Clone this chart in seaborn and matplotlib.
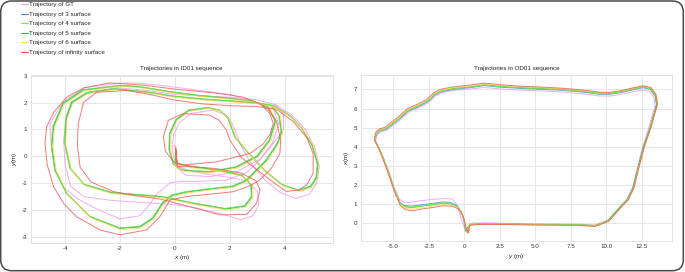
import matplotlib
matplotlib.use('Agg')
import pandas as pd
import matplotlib.pyplot as plt
import seaborn as sns
from matplotlib.lines import Line2D
from matplotlib.patches import FancyBboxPatch

# Trajectory names and colours
labels = ['Trajectory of GT', 'Trajectory of 3 surface', 'Trajectory of 4 surface',
          'Trajectory of 5 surface', 'Trajectory of 6 surface', 'Trajectory of infinity surface']
colors = ['#f294f0', '#3f82d6', '#66ee44', '#33bb4c', '#ffd84a', '#ef5353']

# ID01 sequence waypoints (x, y in metres)
id01_gt_x = [0.05, 0.05, 0.6, 1.3, 2.0, 2.6, 3.0, 3.05, 2.85, 2.4, 1.64, 0.7, 0.06, -1.0, -2.24, -3.3, -3.8, -4.0, -4.05, -3.95,
             -3.7, -3.1, -2.1, -1.0, 0.0, 1.0, 2.0, 3.0, 3.7, 4.3, 4.75, 5.1, 5.25, 5.15, 4.9, 4.4, 3.85, 3.3, 2.8, 2.4,
             2.1, 1.85, 1.4, 0.6, 0.15, -0.05, -0.1, 0.05, 0.4, 1.3, 2.3, 3.1, 3.55, 3.78, 3.6, 3.0, 2.0, 0.9, -0.2, -1.3,
             -2.0, -3.3, -4.1, -4.55, -4.5, -4.36, -4.05, -3.5, -2.85, -2.0, -1.27, -0.9, -0.67, -0.18, 0.2, 1.0, 1.88, 2.6, 3.09, 3.6,
             3.95, 3.95, 3.6]
id01_gt_y = [0.35, -0.35, -0.55, -0.68, -0.78, -0.9, -1.3, -1.8, -2.2, -2.35, -2.12, -1.9, -1.8, -1.72, -1.64, -1.5, -1.1, -0.3, 0.6, 1.5,
             2.05, 2.4, 2.55, 2.45, 2.3, 2.25, 2.2, 2.1, 1.9, 1.5, 1.0, 0.3, -0.4, -1.0, -1.4, -1.56, -1.35, -0.9, -0.3, 0.4,
             1.2, 1.55, 1.72, 1.6, 1.25, 0.8, 0.25, -0.4, -0.7, -0.75, -0.55, -0.1, 0.5, 1.2, 1.75, 2.0, 2.3, 2.45, 2.6, 2.72,
             2.72, 2.55, 2.0, 1.2, 0.4, -0.53, -1.15, -1.6, -1.95, -2.32, -2.2, -1.75, -1.4, -0.98, -0.93, -0.92, -0.88, -0.6, -0.14, 0.5,
             1.0, 1.6, 1.95]
id01_s3_x = [0.04, 0.01, 0.59, 1.25, 1.99, 2.44, 2.77, 2.79, 2.54, 1.84, 0.69, -0.51, -1.51, -2.31, -3.31, -3.81, -4.01, -3.96, -3.76, -3.21,
             -2.21, -1.01, -0.01, 0.99, 1.99, 2.99, 3.64, 4.19, 4.61, 4.99, 5.19, 5.14, 4.94, 4.49, 3.89, 3.29, 2.69, 2.19, 1.94, 1.64,
             1.19, 0.49, 0.04, -0.19, -0.21, -0.06, 0.29, 1.26, 2.23, 2.99, 3.44, 3.65, 3.39, 2.79, 1.99, 0.89, -0.11, -1.31, -2.01, -3.34,
             -4.07, -4.43, -4.49, -4.37, -3.95, -3.1, -2.01, -1.28, -0.81, -0.46, -0.11, 0.39, 1.39, 2.09, 2.59, 3.32, 3.74, 3.87, 3.79, 3.49]
id01_s3_y = [0.26, -0.24, -0.37, -0.46, -0.59, -0.71, -1.04, -1.49, -1.84, -1.94, -1.74, -1.49, -1.41, -1.34, -1.04, -0.44, 0.51, 1.41, 2.01, 2.36,
             2.51, 2.39, 2.23, 2.13, 2.06, 1.99, 1.86, 1.51, 1.06, 0.41, -0.29, -0.79, -1.11, -1.26, -1.04, -0.54, 0.11, 0.71, 1.41, 1.71,
             1.81, 1.71, 1.36, 0.86, 0.26, -0.29, -0.51, -0.57, -0.39, 0.01, 0.61, 1.31, 1.83, 2.06, 2.16, 2.26, 2.39, 2.59, 2.63, 2.47,
             1.97, 1.11, 0.37, -0.5, -1.36, -2.23, -2.66, -2.61, -2.29, -1.74, -1.44, -1.32, -1.19, -1.11, -0.89, -0.14, 0.51, 0.91, 1.51, 1.91]
id01_s4_x = [0.03, 0.0, 0.58, 1.24, 1.98, 2.43, 2.76, 2.78, 2.53, 1.83, 0.68, -0.52, -1.52, -2.32, -3.32, -3.83, -4.03, -3.98, -3.78, -3.22,
             -2.22, -1.02, -0.02, 0.98, 1.98, 2.98, 3.63, 4.18, 4.6, 4.98, 5.18, 5.13, 4.93, 4.48, 3.88, 3.28, 2.68, 2.18, 1.93, 1.63,
             1.18, 0.48, 0.03, -0.2, -0.22, -0.07, 0.28, 1.25, 2.22, 2.98, 3.43, 3.64, 3.38, 2.78, 1.98, 0.88, -0.12, -1.32, -2.02, -3.35,
             -4.08, -4.45, -4.5, -4.38, -3.96, -3.11, -2.02, -1.29, -0.82, -0.47, -0.12, 0.38, 1.38, 2.08, 2.58, 3.31, 3.73, 3.86, 3.78, 3.48]
id01_s4_y = [0.27, -0.22, -0.36, -0.45, -0.58, -0.7, -1.03, -1.48, -1.83, -1.93, -1.73, -1.48, -1.4, -1.33, -1.03, -0.43, 0.52, 1.42, 2.02, 2.37,
             2.52, 2.4, 2.24, 2.14, 2.07, 2.0, 1.87, 1.52, 1.07, 0.42, -0.28, -0.78, -1.1, -1.25, -1.03, -0.53, 0.12, 0.72, 1.42, 1.72,
             1.82, 1.72, 1.37, 0.87, 0.27, -0.28, -0.5, -0.56, -0.38, 0.02, 0.62, 1.32, 1.84, 2.07, 2.17, 2.27, 2.4, 2.6, 2.64, 2.48,
             1.98, 1.12, 0.38, -0.49, -1.35, -2.22, -2.65, -2.6, -2.28, -1.73, -1.43, -1.31, -1.18, -1.1, -0.88, -0.13, 0.52, 0.92, 1.52, 1.92]
id01_s5_x = [0.05, 0.02, 0.6, 1.25, 2.0, 2.45, 2.78, 2.8, 2.55, 1.85, 0.7, -0.5, -1.5, -2.3, -3.3, -3.8, -4.0, -3.95, -3.75, -3.2,
             -2.2, -1.0, 0.0, 1.0, 2.0, 3.0, 3.65, 4.2, 4.62, 5.0, 5.2, 5.15, 4.95, 4.5, 3.9, 3.3, 2.7, 2.2, 1.95, 1.65,
             1.2, 0.5, 0.05, -0.18, -0.2, -0.05, 0.3, 1.27, 2.24, 3.0, 3.45, 3.66, 3.4, 2.8, 2.0, 0.9, -0.1, -1.3, -2.0, -3.33,
             -4.06, -4.42, -4.48, -4.36, -3.94, -3.09, -2.0, -1.27, -0.8, -0.45, -0.1, 0.4, 1.4, 2.1, 2.6, 3.33, 3.75, 3.88, 3.8, 3.5]
id01_s5_y = [0.25, -0.25, -0.38, -0.47, -0.6, -0.72, -1.05, -1.5, -1.85, -1.95, -1.75, -1.5, -1.42, -1.35, -1.05, -0.45, 0.5, 1.4, 2.0, 2.35,
             2.5, 2.38, 2.22, 2.12, 2.05, 1.98, 1.85, 1.5, 1.05, 0.4, -0.3, -0.8, -1.12, -1.27, -1.05, -0.55, 0.1, 0.7, 1.4, 1.7,
             1.8, 1.7, 1.35, 0.85, 0.25, -0.3, -0.52, -0.58, -0.4, 0.0, 0.6, 1.3, 1.82, 2.05, 2.15, 2.25, 2.38, 2.58, 2.62, 2.46,
             1.96, 1.1, 0.36, -0.51, -1.37, -2.24, -2.67, -2.62, -2.3, -1.75, -1.45, -1.33, -1.2, -1.12, -0.9, -0.15, 0.5, 0.9, 1.5, 1.9]
id01_s6_x = [0.08, 0.05, 0.62, 1.27, 2.02, 2.5, 2.83, 2.84, 2.6, 1.88, 0.72, -0.48, -1.5, -2.3, -3.28, -3.78, -3.98, -3.93, -3.72, -3.18,
             -2.2, -1.0, 0.0, 1.0, 2.0, 3.0, 3.66, 4.22, 4.65, 5.05, 5.25, 5.2, 5.0, 4.52, 3.92, 3.32, 2.72, 2.23, 1.98, 1.68,
             1.22, 0.52, 0.08, -0.14, -0.16, -0.02, 0.32, 1.28, 2.26, 3.03, 3.5, 3.7, 3.45, 2.85, 2.0, 0.9, -0.1, -1.3, -2.0, -3.3,
             -4.03, -4.38, -4.44, -4.32, -3.9, -3.05, -1.98, -1.24, -0.76, -0.42, -0.08, 0.42, 1.42, 2.12, 2.63, 3.36, 3.78, 3.92, 3.84, 3.55]
id01_s6_y = [0.2, -0.3, -0.42, -0.5, -0.63, -0.75, -1.08, -1.52, -1.88, -1.99, -1.78, -1.53, -1.45, -1.38, -1.08, -0.48, 0.48, 1.38, 1.98, 2.33,
             2.48, 2.36, 2.2, 2.1, 2.03, 1.96, 1.83, 1.48, 1.02, 0.38, -0.33, -0.83, -1.15, -1.3, -1.08, -0.57, 0.08, 0.68, 1.38, 1.68,
             1.78, 1.68, 1.33, 0.83, 0.23, -0.33, -0.55, -0.61, -0.43, -0.03, 0.58, 1.28, 1.8, 2.03, 2.13, 2.23, 2.36, 2.56, 2.6, 2.44,
             1.94, 1.08, 0.34, -0.53, -1.4, -2.28, -2.72, -2.66, -2.33, -1.78, -1.48, -1.36, -1.23, -1.15, -0.93, -0.18, 0.48, 0.88, 1.48, 1.88]
id01_inf_x = [0.0, 0.08, 0.02, 0.1, 0.6, 1.5, 2.4, 2.95, 3.1, 2.97, 2.61, 1.64, 0.67, -0.55, -1.5, -2.25, -3.05, -3.45, -3.55, -3.52,
              -3.33, -2.85, -1.76, -0.9, -0.06, 1.0, 2.1, 3.0, 3.7, 4.3, 4.8, 5.03, 5.03, 4.8, 4.5, 4.06, 3.7, 3.03, 2.42, 2.0,
              1.88, 1.6, 1.27, 0.3, -0.24, -0.42, -0.35, 0.0, 0.3, 1.52, 2.73, 3.2, 3.45, 3.58, 3.45, 3.1, 2.5, 1.5, 0.0, -1.2,
              -2.36, -3.3, -3.94, -4.4, -4.67, -4.73, -4.65, -4.42, -4.05, -3.58, -2.73, -2.0, -1.03, -0.55, -0.18, 0.42, 1.3, 2.12, 2.7, 3.09,
              3.5, 3.82, 3.85, 3.7, 3.4, 3.2]
id01_inf_y = [0.4, -0.3, 0.3, -0.38, -0.38, -0.45, -0.62, -0.9, -1.25, -1.74, -2.15, -2.17, -1.9, -1.58, -1.45, -1.3, -0.95, -0.4, 0.4, 1.2,
              2.0, 2.38, 2.45, 2.3, 2.1, 1.95, 1.88, 1.85, 1.75, 1.3, 0.7, 0.1, -0.63, -1.05, -1.25, -1.3, -1.05, -0.53, -0.04, 0.6,
              0.97, 1.35, 1.53, 1.59, 1.34, 0.73, 0.2, -0.25, -0.32, -0.2, 0.11, 0.45, 0.8, 1.22, 1.6, 1.95, 2.2, 2.35, 2.5, 2.65,
              2.73, 2.55, 2.2, 1.65, 1.1, 0.48, -0.3, -1.12, -1.75, -2.24, -2.73, -2.91, -2.73, -2.24, -1.62, -1.49, -1.4, -1.31, -1.1, -0.88,
              -0.45, 0.1, 0.6, 1.3, 1.75, 1.9]

# OD01 sequence waypoints (horizontal = y in metres, vertical = x in metres)
od01_gt_x = [0.3, 0.05, -0.05, -0.2, -0.35, -0.55, -0.85, -1.5, -2.3, -3.1, -3.8, -4.25, -4.55, -4.9, -5.3, -5.7, -6.05, -6.25, -6.15, -5.9,
             -5.5, -5.05, -4.6, -3.9, -3.05, -2.5, -2.05, -1.55, -0.8, 0.5, 1.4, 2.5, 4.0, 5.5, 7.0, 8.5, 9.5, 10.2, 11.0, 12.0,
             12.6, 13.05, 13.35, 13.45, 13.0, 12.55, 12.2, 11.85, 11.45, 10.95, 10.15, 9.21, 7.92, 6.0, 4.5, 3.0, 1.5, 0.8, 0.4, 0.2, 0.3]
od01_gt_y = [-0.4, -0.4, -0.1, 0.2, 0.6, 1.0, 1.28, 1.3, 1.25, 1.18, 1.1, 1.1, 1.25, 1.8, 2.65, 3.4, 4.0, 4.3, 4.6, 4.77,
             4.85, 5.1, 5.35, 5.82, 6.1, 6.32, 6.65, 6.83, 6.95, 7.03, 7.1, 7.03, 6.97, 6.92, 6.86, 6.76, 6.66, 6.65, 6.74, 6.9,
             6.97, 6.9, 6.6, 6.18, 5.0, 3.95, 2.9, 1.86, 1.25, 0.86, 0.18, -0.08, -0.04, -0.03, -0.02, 0.0, 0.03, 0.02, 0.0, -0.3, -0.22]
od01_s3_x = [0.25, 0.1, 0.03, -0.05, -0.2, -0.5, -0.95, -1.5, -2.2, -3.0, -3.75, -4.25, -4.55, -4.93, -5.31, -5.71, -6.06, -6.3, -6.2, -5.95,
             -5.55, -5.1, -4.65, -3.95, -3.1, -2.55, -2.1, -1.6, -0.8, 0.5, 1.4, 2.5, 4.0, 5.5, 7.0, 8.5, 9.5, 10.2, 11.0, 12.0,
             12.6, 13.1, 13.45, 13.55, 13.1, 12.61, 12.25, 11.9, 11.5, 10.96, 10.14, 9.21, 7.92, 6.0, 4.5, 3.0, 1.5, 0.8, 0.4, 0.15, 0.25]
od01_s3_y = [-0.4, -0.4, -0.1, 0.2, 0.56, 0.92, 1.1, 1.12, 1.05, 0.97, 0.9, 0.94, 1.1, 1.74, 2.62, 3.4, 3.99, 4.32, 4.67, 4.83,
             4.9, 5.15, 5.4, 5.87, 6.15, 6.37, 6.7, 6.88, 7.0, 7.1, 7.2, 7.12, 7.05, 7.0, 6.95, 6.85, 6.75, 6.74, 6.83, 7.0,
             7.09, 7.0, 6.66, 6.2, 5.02, 3.97, 2.93, 1.88, 1.25, 0.85, 0.16, -0.13, -0.08, -0.07, -0.06, -0.04, -0.03, -0.05, -0.07, -0.33, -0.24]
od01_s4_x = [0.28, 0.13, 0.06, -0.02, -0.17, -0.47, -0.92, -1.5, -2.2, -3.0, -3.72, -4.22, -4.52, -4.92, -5.32, -5.72, -6.07, -6.31, -6.21, -5.96,
             -5.56, -5.11, -4.66, -3.96, -3.11, -2.56, -2.11, -1.61, -0.81, 0.5, 1.4, 2.5, 4.0, 5.5, 7.0, 8.5, 9.5, 10.2, 11.0, 12.0,
             12.6, 13.12, 13.48, 13.59, 13.13, 12.64, 12.28, 11.93, 11.52, 10.99, 10.17, 9.21, 7.92, 6.0, 4.5, 3.0, 1.5, 0.8, 0.4, 0.18, 0.28]
od01_s4_y = [-0.43, -0.43, -0.13, 0.17, 0.52, 0.88, 1.05, 1.08, 1.01, 0.93, 0.85, 0.9, 1.08, 1.72, 2.61, 3.4, 4.0, 4.34, 4.69, 4.85,
             4.93, 5.18, 5.43, 5.9, 6.18, 6.4, 6.73, 6.91, 7.03, 7.13, 7.23, 7.15, 7.08, 7.03, 6.98, 6.88, 6.78, 6.77, 6.86, 7.03,
             7.12, 7.03, 6.68, 6.22, 5.02, 3.97, 2.93, 1.88, 1.25, 0.85, 0.15, -0.11, -0.06, -0.05, -0.04, -0.02, -0.01, -0.03, -0.05, -0.36, -0.26]
od01_s5_x = [0.3, 0.15, 0.08, 0.0, -0.15, -0.45, -0.9, -1.5, -2.2, -3.0, -3.7, -4.2, -4.5, -4.9, -5.3, -5.7, -6.05, -6.3, -6.2, -5.95,
             -5.55, -5.1, -4.65, -3.95, -3.1, -2.55, -2.1, -1.6, -0.8, 0.5, 1.4, 2.5, 4.0, 5.5, 7.0, 8.5, 9.5, 10.2, 11.0, 12.0,
             12.6, 13.1, 13.45, 13.56, 13.1, 12.62, 12.26, 11.91, 11.5, 10.97, 10.15, 9.21, 7.92, 6.0, 4.5, 3.0, 1.5, 0.8, 0.4, 0.2, 0.3]
od01_s5_y = [-0.45, -0.45, -0.15, 0.15, 0.5, 0.85, 1.02, 1.05, 0.98, 0.9, 0.82, 0.87, 1.05, 1.7, 2.6, 3.4, 4.0, 4.35, 4.7, 4.87,
             4.95, 5.2, 5.45, 5.92, 6.2, 6.42, 6.75, 6.93, 7.05, 7.15, 7.25, 7.17, 7.1, 7.05, 7.0, 6.9, 6.8, 6.79, 6.88, 7.05,
             7.14, 7.05, 6.7, 6.23, 5.02, 3.97, 2.93, 1.88, 1.25, 0.84, 0.14, -0.12, -0.07, -0.06, -0.05, -0.03, -0.02, -0.04, -0.06, -0.38, -0.28]
od01_s6_x = [0.32, 0.2, 0.1, 0.01, -0.13, -0.42, -0.88, -1.5, -2.2, -3.0, -3.65, -4.18, -4.5, -4.91, -5.32, -5.72, -6.07, -6.32, -6.22, -5.97,
             -5.57, -5.12, -4.67, -3.97, -3.12, -2.57, -2.12, -1.62, -0.82, 0.5, 1.4, 2.5, 4.0, 5.5, 7.0, 8.5, 9.5, 10.2, 11.0, 12.0,
             12.6, 13.15, 13.52, 13.63, 13.17, 12.68, 12.3, 11.96, 11.55, 11.02, 10.2, 9.21, 7.92, 6.0, 4.5, 3.0, 1.5, 0.8, 0.4, 0.22, 0.35]
od01_s6_y = [-0.47, -0.47, -0.17, 0.12, 0.47, 0.8, 0.95, 0.98, 0.9, 0.82, 0.74, 0.79, 0.98, 1.68, 2.59, 3.4, 4.01, 4.36, 4.72, 4.9,
             4.98, 5.24, 5.49, 5.96, 6.24, 6.46, 6.79, 6.97, 7.09, 7.19, 7.29, 7.21, 7.14, 7.09, 7.03, 6.93, 6.83, 6.82, 6.91, 7.08,
             7.17, 7.08, 6.72, 6.24, 5.02, 3.96, 2.91, 1.86, 1.23, 0.82, 0.12, -0.14, -0.09, -0.08, -0.07, -0.05, -0.04, -0.06, -0.08, -0.4, -0.3]
od01_inf_x = [0.35, 0.25, 0.12, 0.02, -0.12, -0.4, -0.85, -1.5, -2.2, -3.0, -3.6, -4.15, -4.5, -4.92, -5.35, -5.75, -6.1, -6.35, -6.25, -6.0,
              -5.6, -5.15, -4.7, -4.0, -3.15, -2.6, -2.15, -1.65, -0.85, 0.5, 1.4, 2.5, 4.0, 5.5, 7.0, 8.5, 9.5, 10.2, 11.0, 12.0,
              12.6, 13.15, 13.5, 13.62, 13.15, 12.67, 12.3, 11.95, 11.55, 11.0, 10.18, 9.21, 7.92, 6.0, 4.5, 3.0, 1.5, 0.8, 0.4, 0.25, 0.4]
od01_inf_y = [-0.5, -0.5, -0.2, 0.1, 0.45, 0.75, 0.9, 0.92, 0.83, 0.75, 0.66, 0.72, 0.92, 1.65, 2.58, 3.4, 4.02, 4.38, 4.75, 4.93,
              5.02, 5.28, 5.53, 6.0, 6.28, 6.5, 6.83, 7.01, 7.13, 7.24, 7.33, 7.25, 7.17, 7.12, 7.06, 6.96, 6.86, 6.84, 6.93, 7.1,
              7.19, 7.1, 6.75, 6.26, 5.02, 3.96, 2.9, 1.85, 1.22, 0.8, 0.1, -0.16, -0.1, -0.09, -0.08, -0.06, -0.05, -0.07, -0.1, -0.42, -0.32]

# Tick labels
id01_xticks = [-4, -2, 0, 2, 4]
id01_yticks = [-3, -2, -1, 0, 1, 2, 3]
od01_xticks = [-5.0, -2.5, 0, 2.5, 5.0, 7.5, 10.0, 12.5]
od01_xticklabels = ['-5.0', '-2.5', '0', '2.5', '5.0', '7.5', '10.0', '12.5']
od01_yticks = [0, 1, 2, 3, 4, 5, 6, 7]


def build_frame(sets):
    parts = []
    for (xs, ys), lab in zip(sets, labels):
        parts.append(pd.DataFrame({'x': xs, 'y': ys, 'traj': lab}))
    return pd.concat(parts, ignore_index=True)


df_id01 = build_frame([(id01_gt_x, id01_gt_y), (id01_s3_x, id01_s3_y), (id01_s4_x, id01_s4_y),
                       (id01_s5_x, id01_s5_y), (id01_s6_x, id01_s6_y), (id01_inf_x, id01_inf_y)])
df_od01 = build_frame([(od01_gt_x, od01_gt_y), (od01_s3_x, od01_s3_y), (od01_s4_x, od01_s4_y),
                       (od01_s5_x, od01_s5_y), (od01_s6_x, od01_s6_y), (od01_inf_x, od01_inf_y)])

sns.set_theme(style='whitegrid')
plt.rcParams['font.family'] = ['Liberation Sans', 'DejaVu Sans']
plt.rcParams['axes.unicode_minus'] = False
plt.rcParams['mathtext.fontset'] = 'custom'
plt.rcParams['mathtext.it'] = 'Liberation Sans:italic'
plt.rcParams['mathtext.rm'] = 'Liberation Sans'

fig = plt.figure(figsize=(6.85, 2.72), dpi=100)
ax1 = fig.add_axes([0.0448, 0.108, 0.4412, 0.616])
ax2 = fig.add_axes([0.5266, 0.114, 0.4549, 0.610])

# draw the darker 5-surface line beneath the lighter ones
palette = dict(zip(labels, colors))
draw_order = [labels[0], labels[1], labels[3], labels[2], labels[4], labels[5]]

fs = 4.5
for ax, df in [(ax1, df_id01), (ax2, df_od01)]:
    sns.lineplot(data=df, x='x', y='y', hue='traj', hue_order=draw_order, palette=palette,
                 sort=False, estimator=None, linewidth=0.7, alpha=0.78, legend=False, ax=ax)
    for line in ax.get_lines():
        line.set_solid_joinstyle('round')
    ax.grid(True, color='#e6e6e6', linewidth=0.7)
    for sp in ax.spines.values():
        sp.set_color('#e2e2e2')
        sp.set_linewidth(0.7)
    ax.tick_params(length=0, labelsize=fs, colors='#333333', pad=2.5)

ax1.set_xlim(-5.25, 5.75)
ax1.set_ylim(-3.2, 3.02)
ax1.set_xticks(id01_xticks)
ax1.set_yticks(id01_yticks)
ax1.set_title('Trajectories in ID01 sequence', fontsize=fs, pad=4, color='#222222')
ax1.set_xlabel(r'$x$ (m)', fontsize=fs, labelpad=1.5, color='#222222')
ax1.set_ylabel(r'$y$(m)', fontsize=fs, labelpad=2, color='#222222')

ax2.set_xlim(-7.3, 14.66)
ax2.set_ylim(-0.92, 7.75)
ax2.set_xticks(od01_xticks)
ax2.set_xticklabels(od01_xticklabels)
ax2.set_yticks(od01_yticks)
ax2.set_title('Trajectories in OD01 sequence', fontsize=fs, pad=4, color='#222222')
ax2.set_xlabel(r'$y$ (m)', fontsize=fs, labelpad=1.5, color='#222222')
ax2.set_ylabel(r'$x$(m)', fontsize=fs, labelpad=2, color='#222222')

# Legend in the top-left corner of the figure
handles = [Line2D([0], [0], color=c, lw=0.8) for c in colors]
fig.legend(handles, labels, loc='upper left', bbox_to_anchor=(0.030, 0.993), frameon=False,
           fontsize=fs, handlelength=1.2, handletextpad=0.2, labelspacing=0.66,
           borderpad=0, borderaxespad=0)

# Rounded outer frame
border = FancyBboxPatch((0.007, 0.013), 6.826, 2.697, boxstyle='round,pad=0,rounding_size=0.11',
                        transform=fig.dpi_scale_trans, fill=False, edgecolor='#4a4a4a', linewidth=1.1)
fig.add_artist(border)

fig.savefig('out.png', dpi=100)
plt.close(fig)
